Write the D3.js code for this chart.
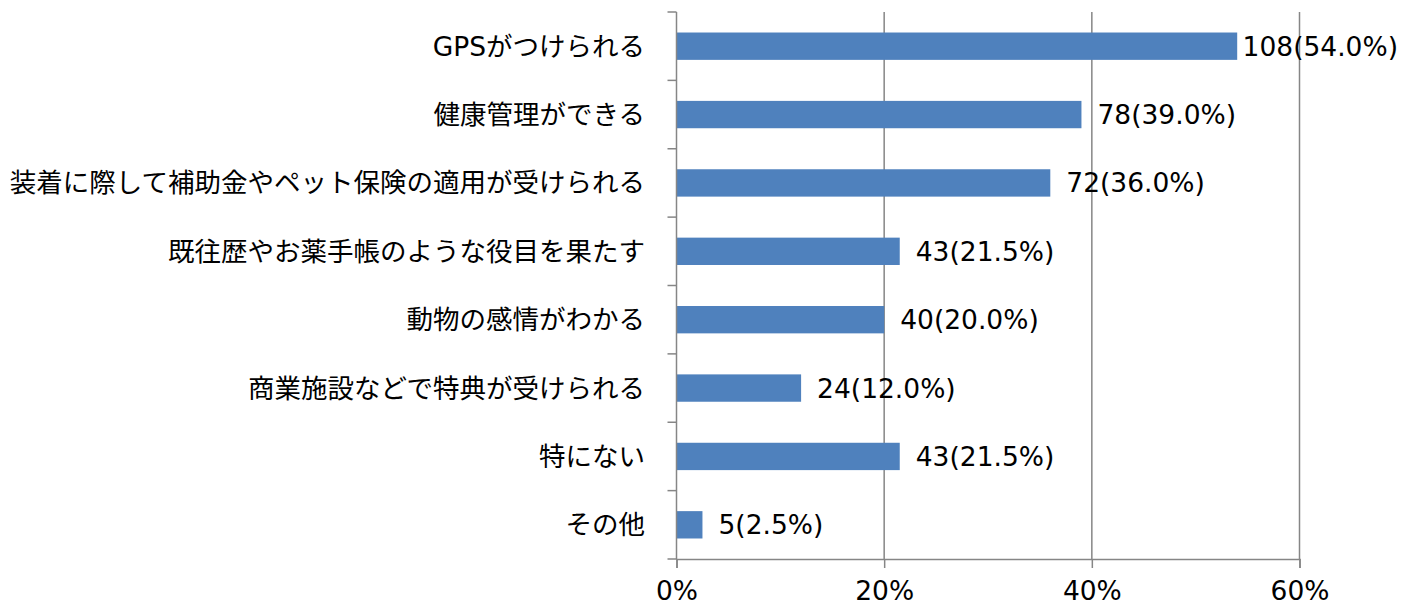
<!DOCTYPE html>
<html>
<head>
<meta charset="utf-8">
<script src="https://cdn.jsdelivr.net/npm/d3@7"></script>
<style>
  body { margin: 0; background: #fff; }
  text { font-family: "DejaVu Sans", "Noto Sans CJK JP", sans-serif; }
</style>
</head>
<body>
<div id="chart"></div>
<script>
var categories = ["GPSがつけられる", "健康管理ができる", "装着に際して補助金やペット保険の適用が受けられる",
    "既往歴やお薬手帳のような役目を果たす", "動物の感情がわかる", "商業施設などで特典が受けられる",
    "特にない", "その他"];
var counts = [108, 78, 72, 43, 40, 24, 43, 5];
var percents = [54.0, 39.0, 36.0, 21.5, 20.0, 12.0, 21.5, 2.5];
var xTicks = [0, 20, 40, 60];

function init(){
    var w = 1403, h = 607;
    var left = 676.5, right = 1299.5, top = 12, bottom = 559;
    var maxRight = 1398;

    var svg = d3.select("#chart").append("svg")
        .attr("width", w)
        .attr("height", h);

    var xScale = d3.scaleLinear().domain([0, 60]).range([left, right]);
    var yScale = d3.scaleBand().domain(categories).range([top, bottom]).paddingInner(0.6).paddingOuter(0.3);

    // grid lines
    svg.selectAll(".grid")
        .data(xTicks.slice(1))
        .enter().append("line")
        .attr("x1", function(d){ return xScale(d); })
        .attr("x2", function(d){ return xScale(d); })
        .attr("y1", top)
        .attr("y2", bottom)
        .attr("stroke", "#868686")
        .attr("stroke-width", 1.5);

    // bars
    svg.selectAll(".bar")
        .data(percents)
        .enter().append("rect")
        .attr("x", xScale(0))
        .attr("y", function(d, i){ return yScale(categories[i]); })
        .attr("width", function(d){ return xScale(d) - xScale(0); })
        .attr("height", yScale.bandwidth())
        .attr("fill", "#4f81bd");

    // value labels (pushed back inside when they would run off the right edge)
    svg.selectAll(".val")
        .data(percents)
        .enter().append("text")
        .attr("y", function(d, i){ return yScale(categories[i]) + yScale.bandwidth() / 2; })
        .attr("dy", "0.36em")
        .attr("font-size", 26.5)
        .attr("fill", "#000")
        .text(function(d, i){ return counts[i] + "(" + d.toFixed(1) + "%)"; })
        .attr("x", function(d){
            var tw = this.getComputedTextLength();
            return Math.min(xScale(d) + 16, maxRight - tw);
        });

    // y axis with ticks at band edges
    var step = (bottom - top) / categories.length;
    var yEdges = d3.range(categories.length + 1).map(function(i){ return top + i * step; });
    svg.append("line")
        .attr("x1", left).attr("x2", left)
        .attr("y1", top).attr("y2", bottom)
        .attr("stroke", "#868686").attr("stroke-width", 1.5);
    svg.selectAll(".ytick")
        .data(yEdges)
        .enter().append("line")
        .attr("x1", left - 9).attr("x2", left)
        .attr("y1", function(d){ return d; })
        .attr("y2", function(d){ return d; })
        .attr("stroke", "#868686").attr("stroke-width", 1.5);

    svg.selectAll(".cat")
        .data(categories)
        .enter().append("text")
        .attr("x", 645)
        .attr("y", function(d){ return yScale(d) + yScale.bandwidth() / 2; })
        .attr("dy", "0.36em")
        .attr("text-anchor", "end")
        .attr("font-size", 26.5)
        .attr("fill", "#000")
        .text(function(d){ return d; });

    // x axis
    var xAxis = d3.axisBottom(xScale)
        .tickValues(xTicks)
        .tickSize(9)
        .tickPadding(13)
        .tickFormat(function(d){ return d + "%"; });
    var gx = svg.append("g")
        .attr("transform", "translate(0," + bottom + ")")
        .call(xAxis);
    gx.select(".domain").attr("stroke", "#868686").attr("stroke-width", 1.5);
    gx.selectAll(".tick line").attr("stroke", "#868686").attr("stroke-width", 1.5);
    gx.selectAll(".tick text")
        .attr("font-size", 26.5)
        .attr("font-family", "DejaVu Sans")
        .attr("fill", "#000");
}

window.onload = init;
</script>
</body>
</html>
